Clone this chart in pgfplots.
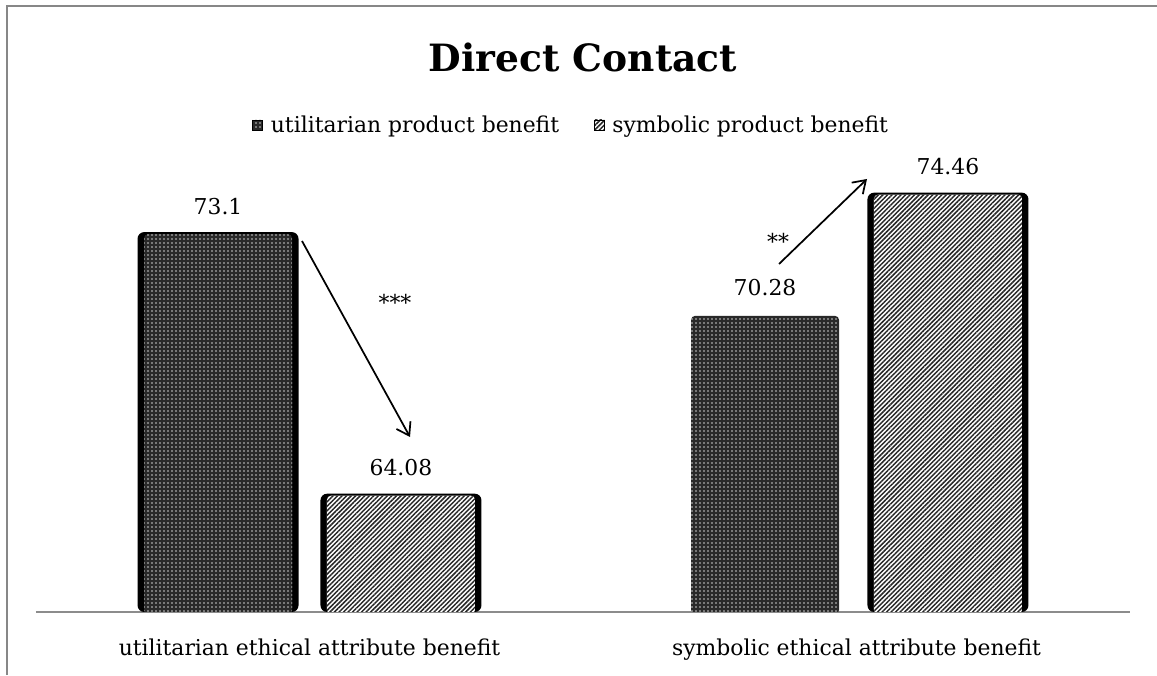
\documentclass[border=0pt]{standalone}
\usepackage{pgfplots}
\pgfplotsset{compat=1.18}
\usetikzlibrary{patterns.meta,arrows.meta}
\usepackage{fontspec}
\setmainfont{DejaVu Serif}
\newcommand{\lab}{\fontsize{16.4}{19}\selectfont}
\tikzset{
  utilfill/.style={fill=black!84, postaction={pattern={Dots[radius=0.65pt,distance=3pt]}, pattern color=white!80!black}},
  symfill/.style={fill=white, postaction={pattern={Lines[angle=45,distance=2.4pt,line width=1.1pt]}, pattern color=black!85}},
}
\begin{document}
\begin{tikzpicture}
\path[use as bounding box] (0,0) rectangle (867.75pt,506.25pt);
\begin{axis}[
  at={(27pt,47.25pt)}, anchor=south west,
  scale only axis, width=820.5pt, height=348pt,
  xmin=-0.5, xmax=1.5, ymin=60, ymax=76,
  axis y line=none, axis x line=bottom,
  x axis line style={-, draw=black!45, line width=1.5pt},
  xtick={0,1},
  xticklabels={utilitarian ethical attribute benefit, symbolic ethical attribute benefit},
  major tick length=0pt,
  xticklabel style={font=\lab, anchor=base, yshift=-32.25pt},
  ytick=\empty,
  ybar,
  clip=true,
  legend image code/.code={\path[#1] (0pt,-3.75pt) rectangle (7.5pt,3.75pt);},
  legend style={draw=none, fill=none, at={(0.4895,1.05)}, anchor=center,
    legend columns=2, font=\lab, inner sep=0pt,
    /tikz/every even column/.append style={column sep=24pt}},
  legend cell align=left,
]
% outer black frames
\addplot[forget plot, bar width=120.75pt, bar shift=-68.6pt, fill=black, draw=none, rounded corners=5pt] coordinates {(0,73.1)};
\addplot[forget plot, bar width=120.75pt, bar shift=68.6pt, fill=black, draw=none, rounded corners=5pt] coordinates {(0,64.08) (1,74.46)};
% patterned bars
\addplot[forget plot, bar width=111pt, bar shift=-68.6pt, draw=none, utilfill, yshift=-1.5pt, rounded corners=3pt] coordinates {(0,73.1) (1,70.28)};
\addplot[forget plot, bar width=111pt, bar shift=68.6pt, draw=none, symfill, yshift=-1.5pt, rounded corners=3pt] coordinates {(0,64.08) (1,74.46)};
% value labels
\addplot[forget plot, bar width=111pt, bar shift=-68.6pt, draw=none, fill=none,
  nodes near coords, point meta=explicit symbolic,
  every node near coord/.append style={font=\lab, text=black, anchor=center, yshift=19.5pt}]
  coordinates {(0,73.1) [73.1] (1,70.28) [70.28]};
\addplot[forget plot, bar width=111pt, bar shift=68.6pt, draw=none, fill=none,
  nodes near coords, point meta=explicit symbolic,
  every node near coord/.append style={font=\lab, text=black, anchor=center, yshift=19.5pt}]
  coordinates {(0,64.08) [64.08] (1,74.46) [74.46]};
\addlegendimage{utilfill}
\addlegendentry{\hspace{4pt}utilitarian product benefit}
\addlegendimage{symfill}
\addlegendentry{\hspace{4pt}symbolic product benefit}
\end{axis}
\begin{scope}[x=0.75pt, y=-0.75pt, shift={(0pt,506.25pt)}]
  \draw[black!47, line width=1.5pt] (6.5,675) -- (6.5,6.5) -- (1157,6.5);
  \node[anchor=base, font=\bfseries\fontsize{28.2}{32}\selectfont] at (583,72) {Direct Contact};
  \draw[line width=1.3pt, -{Straight Barb[length=9pt,width=12pt,line width=1.3pt]}] (302,241) -- (410,437);
  \draw[line width=1.3pt, -{Straight Barb[length=9pt,width=12pt,line width=1.3pt]}] (779,264) -- (867,179);
  \node[font=\lab] at (395,302) {***};
  \node[font=\lab] at (778,241) {**};
\end{scope}
\end{tikzpicture}
\end{document}
